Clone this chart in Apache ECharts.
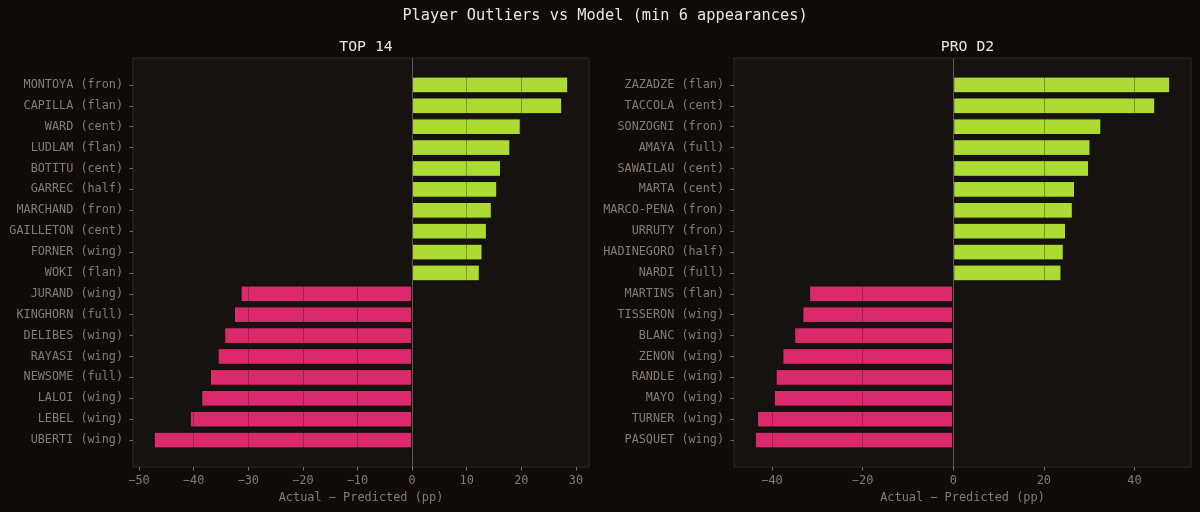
<!DOCTYPE html>
<html><head><meta charset="utf-8">
<script src="https://cdn.jsdelivr.net/npm/echarts@6/dist/echarts.min.js"></script>
<style>html,body{margin:0;padding:0;background:#0e0b09;}#c{width:1200px;height:512px;}</style>
</head><body><div id="c"></div>
<script>
// ---- data ----
const top14Players = ['MONTOYA (fron)','CAPILLA (flan)','WARD (cent)','LUDLAM (flan)','BOTITU (cent)','GARREC (half)','MARCHAND (fron)','GAILLETON (cent)','FORNER (wing)','WOKI (flan)','JURAND (wing)','KINGHORN (full)','DELIBES (wing)','RAYASI (wing)','NEWSOME (full)','LALOI (wing)','LEBEL (wing)','UBERTI (wing)'];
const top14Values = [28.6,27.5,19.9,18.0,16.3,15.6,14.6,13.7,12.9,12.4,-31.4,-32.6,-34.4,-35.6,-37.0,-38.6,-40.7,-47.3];
const proD2Players = ['ZAZADZE (flan)','TACCOLA (cent)','SONZOGNI (fron)','AMAYA (full)','SAWAILAU (cent)','MARTA (cent)','MARCO-PENA (fron)','URRUTY (fron)','HADINEGORO (half)','NARDI (full)','MARTINS (flan)','TISSERON (wing)','BLANC (wing)','ZENON (wing)','RANDLE (wing)','MAYO (wing)','TURNER (wing)','PASQUET (wing)'];
const proD2Values = [47.9,44.6,32.7,30.3,30.0,26.9,26.4,24.9,24.4,23.9,-31.8,-33.3,-35.1,-37.7,-39.2,-39.6,-43.3,-43.8];
const top14Ticks = [-50,-40,-30,-20,-10,0,10,20,30];
const proD2Ticks = [-40,-20,0,20,40];
const mainTitle = 'Player Outliers vs Model (min 6 appearances)';
const panelTitles = ['TOP 14','PRO D2'];
const xAxisTitle = 'Actual \u2212 Predicted (pp)';

// ---- style ----
const FONT = 'DejaVu Sans Mono';
const POS = '#acdc34', NEG = '#db2a6b';
const LABEL = '#877c73';

function ext(vals){ // matplotlib-like 5% margins, bars anchored at 0
  const mn = Math.min(0, ...vals), mx = Math.max(0, ...vals);
  const m = (mx - mn) * 0.05;
  return [mn - m, mx + m];
}
function fmt(v){ return v < 0 ? '\u2212' + Math.abs(v) : String(v); }

// pattern background
const pc = document.createElement('canvas'); pc.width = 4; pc.height = 4;
const pctx = pc.getContext('2d');
pctx.fillStyle = '#0e0b09'; pctx.fillRect(0,0,4,4);
pctx.fillStyle = '#171310'; pctx.fillRect(1,1,1,1);

const frames = [
  {left:133, right:611},
  {left:734, right:9}
];
const FT = 58, FB = 45;        // frame top / bottom margins
const INSET = 16.5;            // category band inset inside frame

const panels = [
  {names: top14Players, vals: top14Values, ticks: top14Ticks},
  {names: proD2Players, vals: proD2Values, ticks: proD2Ticks}
];

const grid = [], xAxis = [], yAxis = [], series = [], title = [];
title.push({text: mainTitle, left: 600, top: 4, textAlign: 'center',
  textStyle:{fontFamily:FONT, fontSize:15.3, fontWeight:'normal', color:'#ece6df'}});

panels.forEach((p, i) => {
  const f = frames[i];
  const [mn, mx] = ext(p.vals);
  const gFrame = i*2, gBar = i*2 + 1;
  grid.push({left:f.left, right:f.right, top:FT, bottom:FB, show:true,
    backgroundColor:'#161210', borderColor:'#2c2825', borderWidth:1, containLabel:false});
  grid.push({left:f.left, right:f.right, top:FT+INSET, bottom:FB+INSET, containLabel:false});
  const cx = f.left + (1200 - f.left - f.right) / 2;
  title.push({text: panelTitles[i], left: cx, top: 35, textAlign:'center',
    textStyle:{fontFamily:FONT, fontSize:14.8, fontWeight:'normal', color:'#ece6df'}});

  xAxis.push({type:'value', gridIndex:gFrame, min:mn, max:mx, z:5,
    name: xAxisTitle, nameLocation:'middle', nameGap:24,
    nameTextStyle:{fontFamily:FONT, fontSize:11.9, color:LABEL},
    axisLine:{show:false, onZero:false},
    axisTick:{show:true, length:3.5, customValues:p.ticks, lineStyle:{color:'#7a7068', width:1}},
    axisLabel:{customValues:p.ticks, formatter:fmt, margin:8, fontFamily:FONT, fontSize:11.9, color:LABEL},
    splitLine:{show:true, lineStyle:{color:'rgba(30,22,18,0.35)', width:1}}
  });
  xAxis.push({type:'value', gridIndex:gBar, min:mn, max:mx, show:false, splitLine:{show:false}});
  yAxis.push({type:'value', gridIndex:gFrame, min:0, max:1, show:false, splitLine:{show:false}});
  yAxis.push({type:'category', gridIndex:gBar, data:p.names, inverse:true, position:'left',
    axisLine:{show:false, onZero:false},
    axisTick:{show:true, alignWithLabel:true, length:3.5, lineStyle:{color:'#7a7068'}},
    axisLabel:{margin:10, fontFamily:FONT, fontSize:11.8, color:LABEL},
    splitLine:{show:false}
  });
  series.push({type:'bar', xAxisIndex:gBar, yAxisIndex:gBar, barWidth:'80%',
    data: p.vals.map(v => ({value:v, itemStyle:{color: v >= 0 ? POS : NEG}})),
    itemStyle:{borderColor:'#0e0b09', borderWidth:1}, z:2, silent:true, animation:false});
  series.push({type:'scatter', xAxisIndex:gFrame, yAxisIndex:gFrame, data:[], silent:true, z:6,
    markLine:{silent:true, symbol:'none', label:{show:false}, z:6, animation:false,
      lineStyle:{color:'#5f5750', width:1, type:'solid'}, data:[{xAxis:0}]}});
});

const chart = echarts.init(document.getElementById('c'), null, {renderer:'canvas'});
chart.setOption({
  backgroundColor:{image:pc, repeat:'repeat'},
  animation:false,
  title, grid, xAxis, yAxis, series
});
</script></body></html>
